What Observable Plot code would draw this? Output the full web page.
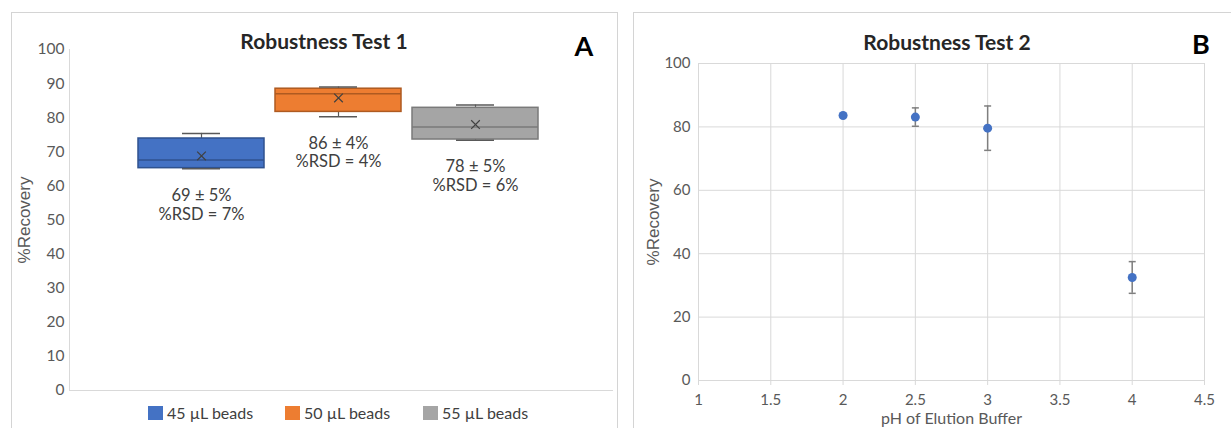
<!DOCTYPE html>
<html>
<head>
<meta charset="utf-8">
<script src="https://cdn.jsdelivr.net/npm/d3@7"></script>
<script src="https://cdn.jsdelivr.net/npm/@observablehq/plot@0.6"></script>
<style>
  html, body { margin: 0; padding: 0; background: #fff; }
  #page { position: relative; width: 1231px; height: 428px; overflow: hidden; font-family: Lato, "Open Sans", sans-serif; }
  .panel { position: absolute; border: 1px solid #d4d4d4; box-sizing: border-box; }
  .abs { position: absolute; }
  .title { position: absolute; font-weight: bold; font-size: 21px; color: #262626; transform: translate(-50%, -50%); white-space: nowrap; }
  .letter { position: absolute; font-weight: bold; font-size: 27px; color: #000; transform: translate(-50%, -50%); }
  .legend { position: absolute; top: 403px; display: flex; align-items: center; font-size: 16px; color: #404040; white-space: nowrap; }
  .sw { display: inline-block; width: 15px; height: 14px; margin-right: 4px; }
</style>
</head>
<body>
<div id="page">
  <div class="panel" style="left:11px; top:12px; width:607px; height:440px;"></div>
  <div class="panel" style="left:633px; top:12px; width:620px; height:440px;"></div>
  <div id="chartA" class="abs" style="left:0; top:0;"></div>
  <div id="chartB" class="abs" style="left:620px; top:0;"></div>
  <div class="title" style="left:324px; top:40px;">Robustness Test 1</div>
  <div class="letter" style="left:584px; top:45px;">A</div>
  <div class="title" style="left:947px; top:41px;">Robustness Test 2</div>
  <div class="letter" style="left:1201px; top:43px;">B</div>
  <div id="legendA"></div>
</div>
<script>
// ---------- Panel A data (box plots) ----------
const series = ["45 µL beads", "50 µL beads", "55 µL beads"];
const whiskerMin = [65.0, 80.3, 73.4];
const quartile1 = [65.2, 81.7, 73.6];
const median = [67.6, 87.0, 77.3];
const quartile3 = [73.9, 88.5, 82.9];
const whiskerMax = [75.4, 89.0, 83.7];
const mean = [68.8, 85.8, 78.0];
const meanLabels = ["69 ± 5%", "86 ± 4%", "78 ± 5%"];
const rsdLabels = ["%RSD = 7%", "%RSD = 4%", "%RSD = 6%"];
const yTicksA = [0, 10, 20, 30, 40, 50, 60, 70, 80, 90, 100];

// ---------- Panel B data (scatter with error bars) ----------
const pH = [2, 2.5, 3, 4];
const recovery = [83.6, 83.1, 79.6, 32.5];
const recoveryErr = [0.3, 2.9, 7.0, 5.0];
const xTicksB = [1, 1.5, 2, 2.5, 3, 3.5, 4, 4.5];
const yTicksB = [0, 20, 40, 60, 80, 100];

// ---------- palette ----------
const fills = ["#4472C4", "#ED7D31", "#A5A5A5"];
const edges = ["#2F528F", "#AE5A21", "#7A7A7A"];

const boxes = series.map((s, i) => ({
  series: s, min: whiskerMin[i], q1: quartile1[i], median: median[i],
  q3: quartile3[i], max: whiskerMax[i], mean: mean[i],
  meanLabel: meanLabels[i], rsd: rsdLabels[i], fill: fills[i], edge: edges[i]
}));

const grid = "#d9d9d9";
const whisk = "#595959";

const chartA = Plot.plot({
  width: 625, height: 428,
  marginLeft: 69, marginRight: 13, marginTop: 49, marginBottom: 38,
  style: { fontFamily: "Lato, sans-serif", fontSize: "15px", color: "#595959", background: "transparent" },
  x: { domain: series, range: [137, 538], paddingInner: 0.0836, paddingOuter: 0, axis: null },
  y: { domain: [0, 100] },
  marks: [
    Plot.frame({ anchor: "left", stroke: grid }),
    Plot.frame({ anchor: "bottom", stroke: grid }),
    Plot.axisY({ ticks: yTicksA, tickSize: 0, tickPadding: 5, fontSize: 15.5, label: "%Recovery",
      labelAnchor: "center", labelArrow: "none", labelOffset: 52 }),
    Plot.ruleX(boxes, { x: "series", y1: "q3", y2: "max", stroke: whisk, strokeWidth: 1.2 }),
    Plot.ruleX(boxes, { x: "series", y1: "min", y2: "q1", stroke: whisk, strokeWidth: 1.2 }),
    Plot.rect(boxes, { x: "series", y1: "q1", y2: "q3", fill: "fill", stroke: "edge", strokeWidth: 1.5 }),
    Plot.tickY(boxes, { x: "series", y: "median", stroke: "edge", strokeWidth: 1.5 }),
    Plot.tickY(boxes, { x: "series", y: "max", stroke: whisk, strokeWidth: 1.5, insetLeft: 44, insetRight: 44 }),
    Plot.tickY(boxes, { x: "series", y: "min", stroke: whisk, strokeWidth: 1.5, insetLeft: 44, insetRight: 44 }),
    Plot.dot(boxes, { x: "series", y: "mean", symbol: "times", r: 4, stroke: "#404040", strokeWidth: 1.2 }),
    Plot.text(boxes, { x: "series", y: "min", text: "meanLabel", dy: 27, lineAnchor: "middle",
      fontSize: 16.5, fill: "#404040" }),
    Plot.text(boxes, { x: "series", y: "min", text: "rsd", dy: 45.5, lineAnchor: "middle",
      fontSize: 16.5, fill: "#404040" })
  ]
});
document.getElementById("chartA").appendChild(chartA);

// legend
const legend = document.getElementById("legendA");
const legendX = [148, 285, 423];
series.forEach((s, i) => {
  const item = document.createElement("div");
  item.className = "legend";
  item.style.left = legendX[i] + "px";
  item.innerHTML = `<span class="sw" style="background:${fills[i]}"></span><span>${s}</span>`;
  legend.appendChild(item);
});

// ---------- Panel B ----------
const pts = pH.map((x, i) => ({ ph: x, y: recovery[i], lo: recovery[i] - recoveryErr[i], hi: recovery[i] + recoveryErr[i] }));
const capSymbol = { draw(ctx) { ctx.moveTo(-3.5, 0); ctx.lineTo(3.5, 0); } };

const chartB = Plot.plot({
  width: 611, height: 428,
  marginLeft: 78, marginRight: 27, marginTop: 63, marginBottom: 48,
  style: { fontFamily: "Lato, sans-serif", fontSize: "14px", color: "#595959", background: "transparent" },
  x: { domain: [1, 4.5] },
  y: { domain: [0, 100] },
  marks: [
    Plot.gridX(xTicksB, { stroke: grid, strokeOpacity: 1 }),
    Plot.gridY(yTicksB, { stroke: grid, strokeOpacity: 1 }),
    Plot.axisX({ ticks: xTicksB, tickSize: 5, stroke: grid, strokeOpacity: 1, tickPadding: 9, fontSize: 15,
      tickFormat: d => String(d), label: "pH of Elution Buffer", labelAnchor: "center", labelArrow: "none", labelOffset: 43 }),
    Plot.axisY({ ticks: yTicksB, tickSize: 0, tickPadding: 8, fontSize: 15, label: "%Recovery",
      labelAnchor: "center", labelArrow: "none", labelOffset: 52 }),
    Plot.ruleX(pts, { x: "ph", y1: "lo", y2: "hi", stroke: "#7f7f7f", strokeWidth: 1.5 }),
    Plot.dot(pts, { x: "ph", y: "lo", symbol: capSymbol, stroke: "#7f7f7f", strokeWidth: 1.5 }),
    Plot.dot(pts, { x: "ph", y: "hi", symbol: capSymbol, stroke: "#7f7f7f", strokeWidth: 1.5 }),
    Plot.dot(pts, { x: "ph", y: "y", r: 4.5, fill: "#4472C4" })
  ]
});
document.getElementById("chartB").appendChild(chartB);

// axis-title fonts
document.querySelectorAll("svg [aria-label='y-axis label']").forEach(n => {
  n.setAttribute("font-family", "'Liberation Sans', Arial, sans-serif");
  n.setAttribute("font-size", "17");
});
document.querySelectorAll("svg [aria-label='x-axis label']").forEach(n => {
  n.setAttribute("font-size", "16");
});
</script>
</body>
</html>
